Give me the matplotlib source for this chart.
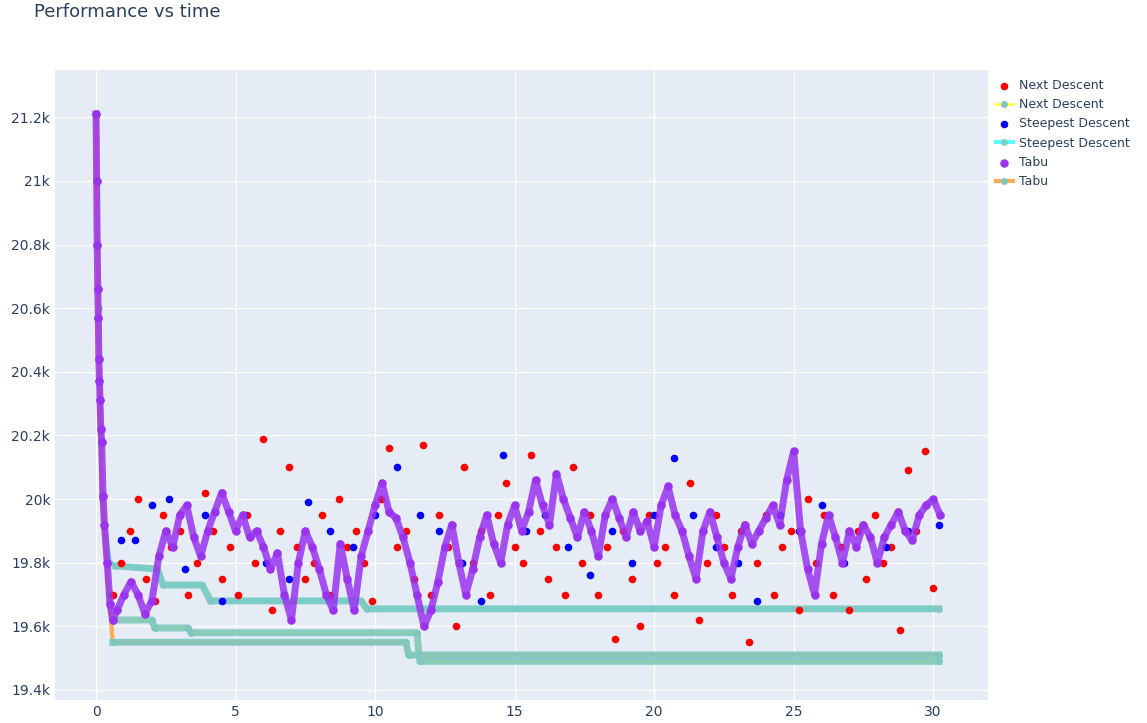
import matplotlib
matplotlib.use("Agg")
import matplotlib.pyplot as plt
import numpy as np

# initial descent shared by all runs
init_t = [0, 0.02, 0.04, 0.06, 0.08, 0.1, 0.12, 0.14, 0.17, 0.2, 0.25, 0.3, 0.4, 0.5, 0.6]
init_v = [21210, 21000, 20800, 20660, 20570, 20440, 20370, 20310, 20220, 20180, 20010, 19920, 19800, 19670, 19620]

tabu_v = [19650,19700,19740,19700,19640,19680,19820,19900,19850,19950,
          19980,19880,19820,19900,19960,20020,19960,19900,19950,19880,19900,19850,
          19780,19830,19700,19620,19800,19900,19850,19780,19700,19650,19860,19750,
          19650,19820,19900,19980,20050,19960,19940,19880,19800,19700,19600,19650,
          19740,19850,19920,19800,19700,19780,19880,19950,19860,19800,19920,19980,
          19900,19960,20060,19980,19920,20080,20000,19940,19880,19960,19900,19820,
          19950,20000,19940,19880,19960,19900,19930,19850,19980,20040,19950,19900,
          19820,19750,19900,19960,19880,19800,19750,19850,19920,19860,19900,19940,
          19980,19920,20060,20150,19900,19780,19700,19860,19950,19880,19800,19900,
          19850,19920,19880,19800,19880,19920,19960,19900,19870,19950,19980,20000,19950]
tabu_t = [0.75 + 0.25 * i for i in range(len(tabu_v))]

next_v = [19700,19800,19900,20000,19750,19680,19950,19850,19900,19700,
          19800,20020,19900,19750,19850,19700,19950,19800,20190,19650,
          19900,20100,19850,19750,19800,19950,19700,20000,19850,19900,
          19800,19680,20000,20160,19850,19900,19750,20170,19700,19950,
          19850,19600,20100,19800,19900,19700,19950,20050,19850,19800,
          20140,19900,19750,19850,19700,20100,19800,19950,19700,19850,
          19560,19900,19750,19600,19950,19800,19850,19700,19900,20050,
          19620,19800,19950,19850,19700,19900,19550,19800,19950,19700,
          19850,19900,19650,20000,19800,19950,19700,19850,19650,19900,
          19750,19950,19800,19850,19590,20090,19900,20150,19720]
next_t = [0.6 + 0.3 * i for i in range(len(next_v))]

steep_t = [0.9, 1.4, 2.0, 2.6, 3.2, 3.9, 4.5, 5.3, 6.1, 6.9, 7.6, 8.4, 9.2, 10.0, 10.8,
           11.6, 12.3, 13.1, 13.8, 14.6, 15.4, 16.1, 16.9, 17.7, 18.5, 19.2, 20.0, 20.7,
           21.4, 22.2, 23.0, 23.7, 24.5, 25.2, 26.0, 26.8, 27.5, 28.3, 29.1, 30.2]
steep_v = [19870, 19870, 19980, 20000, 19780, 19950, 19680, 19950, 19800, 19750, 19990, 19900, 19850, 19950, 20100,
           19950, 19900, 19800, 19680, 20140, 19900, 19950, 19850, 19760, 19900, 19800, 19950, 20130,
           19950, 19850, 19800, 19680, 19950, 19900, 19980, 19800, 19920, 19850, 19900, 19920]

# best-so-far step curves (breakpoints)
steep_best_t = [0, 0.1, 0.2, 0.3, 0.5, 0.7, 2.2, 2.4, 3.8, 4.1, 9.5, 9.7, 30.2]
steep_best_v = [21210, 20600, 20000, 19920, 19800, 19790, 19780, 19730, 19730, 19680, 19680, 19655, 19655]
tabu_best_t = [0, 0.1, 0.2, 0.3, 0.45, 0.6, 11.1, 11.2, 30.2]
tabu_best_v = [21210, 20440, 20010, 19920, 19700, 19550, 19550, 19510, 19510]
next_best_t = [0, 0.1, 0.2, 0.3, 0.45, 0.6, 2.0, 2.1, 3.3, 3.4, 11.5, 11.6, 30.2]
next_best_v = [21210, 20440, 20010, 19920, 19700, 19620, 19620, 19595, 19595, 19580, 19580, 19490, 19490]

fig = plt.figure(figsize=(11.47, 7.23), dpi=100)
ax = fig.add_axes([0.048, 0.032, 0.813, 0.871])
ax.set_facecolor('#E5ECF6')
ax.grid(True, color='white', lw=1)
ax.set_axisbelow(True)
for s in ax.spines.values():
    s.set_visible(False)
ax.tick_params(length=0, labelsize=10, colors='#2a3f5f')

teal = '#7ec8c0'
ax.scatter(init_t + next_t, init_v + next_v, s=20, color='#ff0000', zorder=3, label='Next Descent')
ax.plot(next_best_t, next_best_v, color='#ffff33', lw=2, marker='o', ms=4, mfc=teal, mec=teal, zorder=2, label='Next Descent')
ax.scatter(init_t + steep_t, init_v + steep_v, s=20, color='#0000ff', zorder=3, label='Steepest Descent')
ax.plot(steep_best_t, steep_best_v, color='#33ffff', lw=3, marker='o', ms=4, mfc=teal, mec=teal, alpha=0.8, zorder=2, label='Steepest Descent')
ax.plot(init_t + tabu_t, init_v + tabu_v, color='#9933ee', lw=5, alpha=0.85, zorder=4)
ax.scatter(init_t + tabu_t, init_v + tabu_v, s=26, color='#9933ee', zorder=4, label='Tabu')
ax.plot(tabu_best_t, tabu_best_v, color='#ffaa55', lw=3, marker='o', ms=4, mfc=teal, mec=teal, zorder=2, label='Tabu')
for bt, bv in [(next_best_t, next_best_v), (steep_best_t, steep_best_v), (tabu_best_t, tabu_best_v)]:
    ax.plot(bt[5:], bv[5:], color=teal, lw=5, alpha=0.9, zorder=2.5)

ax.set_xlim(-1.47, 31.95)
ax.set_ylim(19369, 21348)
ax.set_xticks([0, 5, 10, 15, 20, 25, 30])
ax.set_yticks([19400, 19600, 19800, 20000, 20200, 20400, 20600, 20800, 21000, 21200])
ax.set_yticklabels(['19.4k', '19.6k', '19.8k', '20k', '20.2k', '20.4k', '20.6k', '20.8k', '21k', '21.2k'])
fig.text(0.03, 0.983, 'Performance vs time', fontsize=13, color='#2a3f5f', va='center')
ax.legend(loc='upper left', bbox_to_anchor=(1.0, 1.0), frameon=False, fontsize=9,
          labelcolor='#2a3f5f', handlelength=1.3, handletextpad=0.5, borderaxespad=0.3)
fig.savefig('out.png', dpi=100)
